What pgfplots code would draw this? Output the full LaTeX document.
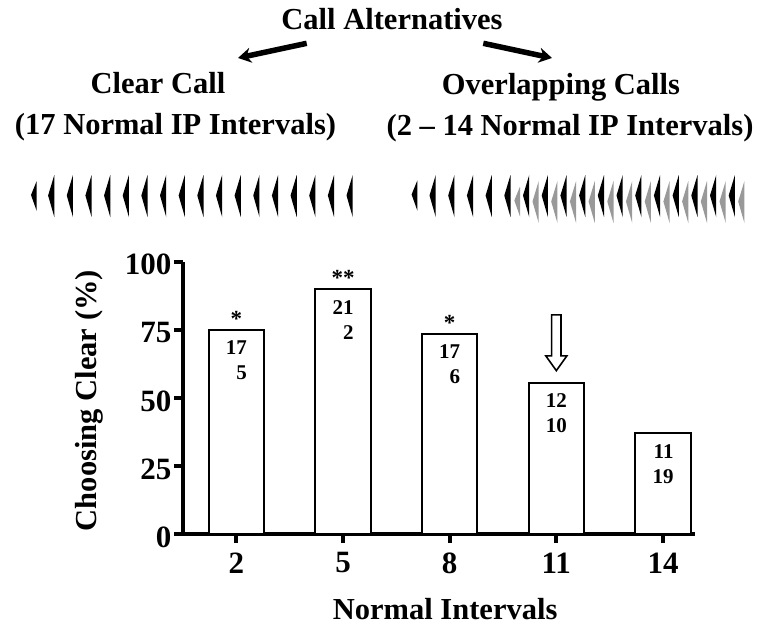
\documentclass[border=0pt]{standalone}
\usepackage{fontspec}
\setmainfont{Liberation Serif}
\usepackage{pgfplots}
\pgfplotsset{compat=1.18}
\usetikzlibrary{arrows.meta}

% pulse glyphs (right edge vertical, apex pointing left)
\pgfdeclareplotmark{pulseS}{%
  \pgfpathmoveto{\pgfqpoint{0pt}{14pt}}%
  \pgfpathlineto{\pgfqpoint{-5.7pt}{0pt}}%
  \pgfpathlineto{\pgfqpoint{0pt}{-16pt}}%
  \pgfpathclose\pgfusepathqfill}
\pgfdeclareplotmark{pulseL}{%
  \pgfpathmoveto{\pgfqpoint{0pt}{20.5pt}}%
  \pgfpathlineto{\pgfqpoint{-6.2pt}{0pt}}%
  \pgfpathlineto{\pgfqpoint{0pt}{-21.5pt}}%
  \pgfpathclose\pgfusepathqfill}

\newcommand{\tfont}{\fontsize{30.5}{32}\selectfont\bfseries}

\begin{document}
\begin{tikzpicture}
\useasboundingbox (0pt,0pt) rectangle (770pt,-625pt);

% ---------- header: titles, arrows and call pulses ----------
\begin{axis}[at={(0pt,-625pt)}, anchor=south west, scale only axis,
  width=770pt, height=625pt, xmin=0, xmax=770, ymin=0, ymax=625,
  y dir=reverse, hide axis, clip=false]
  \node[anchor=base, font=\tfont] at (axis cs:392,29.5) {Call Alternatives};
  \node[anchor=base, font=\tfont] at (axis cs:158,93.5) {Clear Call};
  \node[anchor=base, font=\tfont] at (axis cs:175.5,134.5) {(17 Normal IP Intervals)};
  \node[anchor=base, font=\tfont] at (axis cs:561,94.5) {Overlapping Calls};
  \node[anchor=base, font=\tfont] at (axis cs:570,135) {(2 -- 14 Normal IP Intervals)};
  \draw[line width=5.5pt, -{Stealth[length=13pt,width=15pt]}] (axis cs:306.7,43.3) -- (axis cs:238,58);
  \draw[line width=5.5pt, -{Stealth[length=13pt,width=15pt]}] (axis cs:483.3,43.3) -- (axis cs:552,58);

  % clear call: black pulses
  \addplot[only marks, mark=pulseS, color=black] coordinates {(36.7,195)};
  \addplot[only marks, mark=pulseL, color=black] coordinates {
    (54.3,195.5) (72.95,195.5) (91.6,195.5) (110.25,195.5) (128.9,195.5)
    (147.55,195.5) (166.2,195.5) (184.85,195.5) (203.5,195.5) (222.15,195.5)
    (240.8,195.5) (259.45,195.5) (278.1,195.5) (296.75,195.5) (315.4,195.5)
    (334.05,195.5) (352.7,195.5)};
  % overlapping calls: gray pulses (behind)
  \addplot[only marks, mark=pulseS, color=black!40] coordinates {(520,200.5)};
  \addplot[only marks, mark=pulseL, color=black!40] coordinates {
    (538.7,201.5) (557.4,201.5) (576.1,201.5) (594.8,201.5) (613.5,201.5)
    (632.2,201.5) (650.9,201.5) (669.6,201.5) (688.3,201.5) (707.0,201.5)
    (725.7,201.5) (744.4,201.5)};
  % overlapping calls: black pulses
  \addplot[only marks, mark=pulseS, color=black] coordinates {(417.3,194.5)};
  \addplot[only marks, mark=pulseL, color=black] coordinates {
    (435.7,195.5) (454.4,195.5) (473.1,195.5) (491.8,195.5) (510.5,195.5)
    (529.2,195.5) (547.9,195.5) (566.6,195.5) (585.3,195.5) (604.0,195.5)
    (622.7,195.5) (641.4,195.5) (660.1,195.5) (678.8,195.5) (697.5,195.5)
    (716.2,195.5) (734.9,195.5)};
\end{axis}

% ---------- bar chart ----------
\begin{axis}[at={(183pt,-534pt)}, anchor=south west, scale only axis,
  width=512pt, height=272.3pt,
  xmin=0.5, xmax=14.9, ymin=0, ymax=100,
  axis lines=left, axis line style={line width=4pt, -},
  xtick={2,5,8,11,14}, ytick={0,25,50,75,100},
  tick align=outside, major tick length=9pt,
  tick style={line width=4pt, black},
  tick label style={font=\fontsize{31}{32}\selectfont\bfseries},
  xticklabel style={yshift=-6pt},
  yticklabel style={yshift=-3pt, xshift=1pt},
  /pgf/number format/assume math mode=true,
  xlabel={Normal Intervals}, ylabel={Choosing Clear (\%)},
  label style={font=\fontsize{30.5}{32}\selectfont\bfseries},
  xlabel style={at={(axis description cs:0.512,-0.3122)}, anchor=base},
  ylabel style={at={(axis description cs:-0.168,0.49)}, anchor=base},
  clip=false]
  \addplot[ybar, bar width=1.55, fill=white, draw=black, line width=2pt]
    coordinates {(2,75) (5,90) (8,73.5) (11,55.5) (14,37)};

  \tikzset{inlab/.style={anchor=north, align=right, inner sep=0pt,
      font=\fontsize{21}{25}\selectfont\bfseries, yshift=-11pt},
    star/.style={anchor=base, inner sep=0pt,
      font=\fontsize{23}{23}\selectfont\bfseries, yshift=3pt}}
  \node[inlab] at (axis cs:2,75) {17\\5};
  \node[inlab] at (axis cs:5,90) {21\\2};
  \node[inlab] at (axis cs:8,73.5) {17\\6};
  \node[inlab] at (axis cs:11,55.5) {12\\10};
  \node[inlab] at (axis cs:14,37) {11\\19};
  \node[star] at (axis cs:2,75) {*};
  \node[star] at (axis cs:5,90) {**};
  \node[star] at (axis cs:8,73.5) {*};
  % hollow arrow pointing at the 11-interval bar
  \draw[line width=1.6pt, fill=white] (axis cs:11,60) -- ++(-10.5pt,14.7pt)
    -- ++(5.85pt,0pt) -- ++(0pt,41pt) -- ++(9.3pt,0pt) -- ++(0pt,-41pt)
    -- ++(5.85pt,0pt) -- cycle;
\end{axis}
\end{tikzpicture}
\end{document}
